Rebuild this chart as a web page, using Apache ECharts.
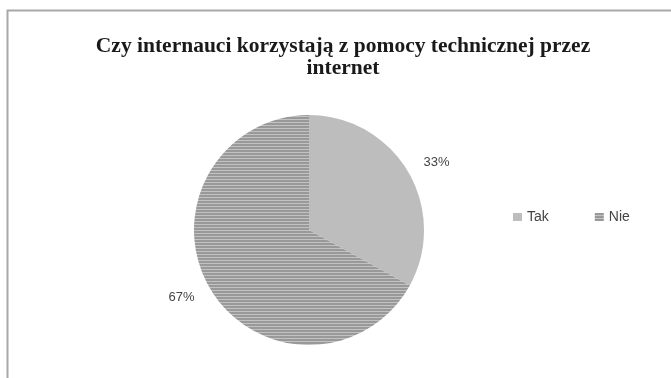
<!DOCTYPE html>
<html>
<head>
<meta charset="utf-8">
<style>
  html, body { margin: 0; padding: 0; background: #fff; }
  #chart { width: 671px; height: 378px; }
</style>
<script src="https://cdn.jsdelivr.net/npm/echarts@6/dist/echarts.min.js"></script>
</head>
<body>
<div id="chart"></div>
<script>
// Survey answers and their shares (percent)
const categories = ['Tak', 'Nie'];
const shares = [33, 67];
const titleText = 'Czy internauci korzystają z pomocy technicznej przez\ninternet';

// Horizontal hatch used for the "Nie" slice
function hatchPattern() {
  const c = document.createElement('canvas');
  c.width = 6; c.height = 3;
  const g = c.getContext('2d');
  g.fillStyle = '#999999';
  g.fillRect(0, 0, 6, 3);
  g.fillStyle = '#c2c2c2';
  g.fillRect(0, 2, 6, 1);
  return c;
}

const fills = ['#bdbdbd', { image: hatchPattern(), repeat: 'repeat' }];

const chart = echarts.init(document.getElementById('chart'), null, { renderer: 'canvas' });
chart.setOption({
  animation: false,
  backgroundColor: '#ffffff',
  title: {
    text: titleText,
    left: 338,
    top: 30,
    textAlign: 'center',
    textStyle: {
      fontFamily: 'Liberation Serif',
      fontWeight: 'bold',
      fontSize: 21.5,
      lineHeight: 22,
      color: '#1a1a1a'
    }
  },
  legend: {
    data: categories,
    left: 508,
    top: 205,
    orient: 'horizontal',
    itemWidth: 9,
    itemHeight: 8,
    itemGap: 46,
    icon: 'rect',
    textStyle: {
      fontFamily: 'Liberation Sans',
      fontSize: 14,
      color: '#444',
      padding: [0, 0, 0, 0]
    }
  },
  graphic: [{
    type: 'rect',
    shape: { x: 7.5, y: 10.5, width: 700, height: 400 },
    style: { fill: 'none', stroke: '#a8a8a8', lineWidth: 2 },
    silent: true
  }],
  series: [{
    type: 'pie',
    center: [309, 230],
    radius: [0, 115],
    startAngle: 90,
    clockwise: true,
    data: categories.map((name, i) => ({
      name,
      value: shares[i],
      itemStyle: { color: fills[i] }
    })),
    itemStyle: { borderWidth: 0 },
    label: {
      show: true,
      position: 'outside',
      formatter: '{d}%',
      fontFamily: 'Liberation Sans',
      fontSize: 13,
      color: '#444',
      distanceToLabelLine: 0
    },
    labelLine: { show: false, length: 18, length2: 0 },
    emphasis: { disabled: true }
  }]
});
</script>
</body>
</html>
